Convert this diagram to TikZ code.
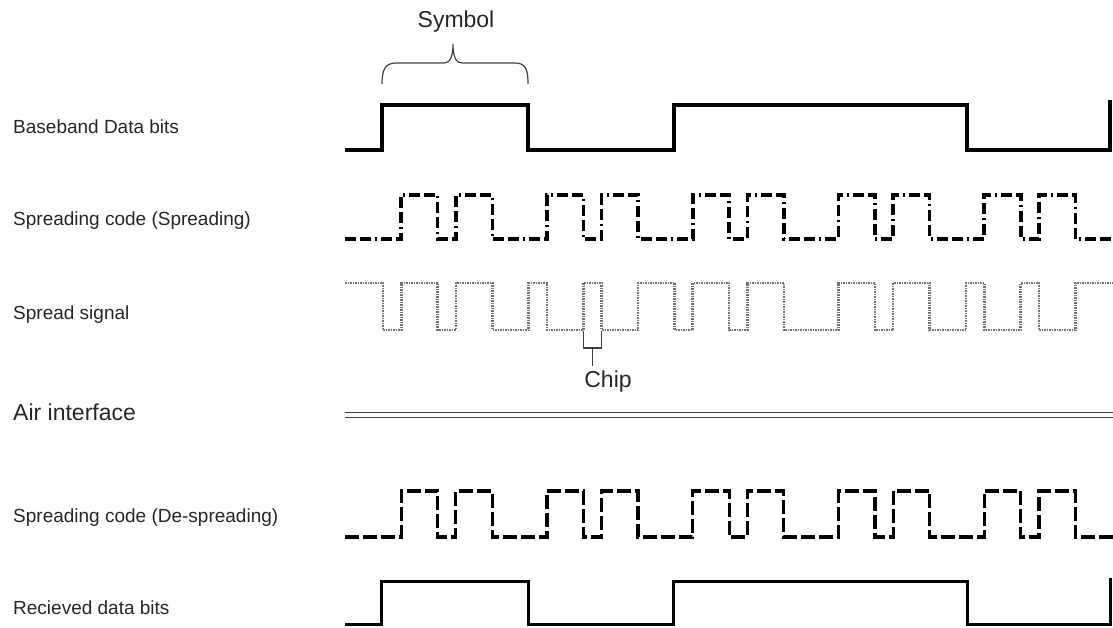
\documentclass[tikz,border=0pt]{standalone}
\usepackage{fontspec}
\setmainfont{Liberation Sans}
\def\chipw{18.22}
\def\xzero{383}
\begin{document}
\begin{tikzpicture}[x=1pt,y=-1pt,
  lbl/.style={anchor=west,inner sep=0pt,font=\fontsize{19}{22}\selectfont,text=black!85},
  big/.style={inner sep=0pt,font=\fontsize{23}{26}\selectfont,text=black!85},
  datasig/.style={line width=3.6pt,line join=miter,draw=black},
  rdatasig/.style={line width=3pt,line join=miter,draw=black},
  codeA/.style={line width=3.6pt,draw=black,dash pattern=on 11pt off 4pt on 11pt off 4pt on 2pt off 4pt},
  codeB/.style={line width=3.2pt,draw=black,dash pattern=on 14pt off 4pt},
  spreadsig/.style={draw=black!55,line width=2.6pt,dash pattern=on 1.5pt off 1pt},
  thinline/.style={line width=1.2pt,draw=black!75}]
\useasboundingbox (0,0) rectangle (1113,628);

% labels
\node[lbl] (l1) at (13,127) {Baseband Data bits};
\node[lbl] (l2) at (13,221) {Spreading code (Spreading)};
\node[lbl] (l3) at (13,315) {Spread signal};
\node[big,anchor=west] (l4) at (13,412) {Air interface};
\node[lbl] (l5) at (13,518) {Spreading code (De-spreading)};
\node[lbl] (l6) at (13,608) {Recieved data bits};

% symbol brace
\node[big] (sym) at (456,22) {Symbol};
\draw[thinline] (382,84) .. controls (382,70) and (385,63) .. (396,63) -- (444,63)
  .. controls (450,63) and (453,57) .. (453,44)
  .. controls (453,57) and (456,63) .. (462,63) -- (515,63)
  .. controls (526,63) and (528,70) .. (528,84);

% baseband data
\draw[datasig] (345,150) -- (382,150) -- (382,105) -- (528,105) -- (528,150) -- (674,150)
  -- (674,105) -- (967,105) -- (967,150) -- (1110,150) -- (1110,100);

% spreading code (spreading)
\draw[codeA] (345,239) \foreach \m in {0,...,4}{
  -- ({\xzero+\chipw*(8*\m+1)},239) -- ({\xzero+\chipw*(8*\m+1)},195)
  -- ({\xzero+\chipw*(8*\m+3)},195) -- ({\xzero+\chipw*(8*\m+3)},239)
  -- ({\xzero+\chipw*(8*\m+4)},239) -- ({\xzero+\chipw*(8*\m+4)},195)
  -- ({\xzero+\chipw*(8*\m+6)},195) -- ({\xzero+\chipw*(8*\m+6)},239)} -- (1113,239);

% spread signal
\draw[spreadsig] (345,283) \foreach \f/\r in {0/1,3/4,6/8,9/11,12/14,16/17,19/20,22/25,27/28,30/32,33/35,36/38}{
  -- ({\xzero+\chipw*\f},283) -- ({\xzero+\chipw*\f},330)
  -- ({\xzero+\chipw*\r},330) -- ({\xzero+\chipw*\r},283)} -- (1113,283);

% chip bracket
\coordinate (c1) at ({\xzero+\chipw*11},331);
\coordinate (c2) at ({\xzero+\chipw*12},331);
\coordinate (cm) at ({\xzero+\chipw*11.5},348);
\draw[thinline] (c1) -- (c1 |- cm) -- (c2 |- cm) -- (c2);
\draw[thinline] (cm) -- ++(0,18) coordinate (cs);
\node[big] (chip) at (608,382) {Chip};

% air interface
\draw[line width=0.9pt,draw=black!75] (345,412.5) -- (1113,412.5);
\draw[line width=0.9pt,draw=black!75] (345,417.5) -- (1113,417.5);

% spreading code (de-spreading)
\draw[codeB] (345,537) \foreach \m in {0,...,4}{
  -- ({\xzero+\chipw*(8*\m+1)},537) -- ({\xzero+\chipw*(8*\m+1)},491)
  -- ({\xzero+\chipw*(8*\m+3)},491) -- ({\xzero+\chipw*(8*\m+3)},537)
  -- ({\xzero+\chipw*(8*\m+4)},537) -- ({\xzero+\chipw*(8*\m+4)},491)
  -- ({\xzero+\chipw*(8*\m+6)},491) -- ({\xzero+\chipw*(8*\m+6)},537)} -- (1113,537);

% received data
\draw[rdatasig] (345,624) -- (381,624) -- (381,581) -- (528,581) -- (528,624) -- (673,624)
  -- (673,581) -- (967,581) -- (967,624) -- (1110,624) -- (1110,578);
\end{tikzpicture}
\end{document}
